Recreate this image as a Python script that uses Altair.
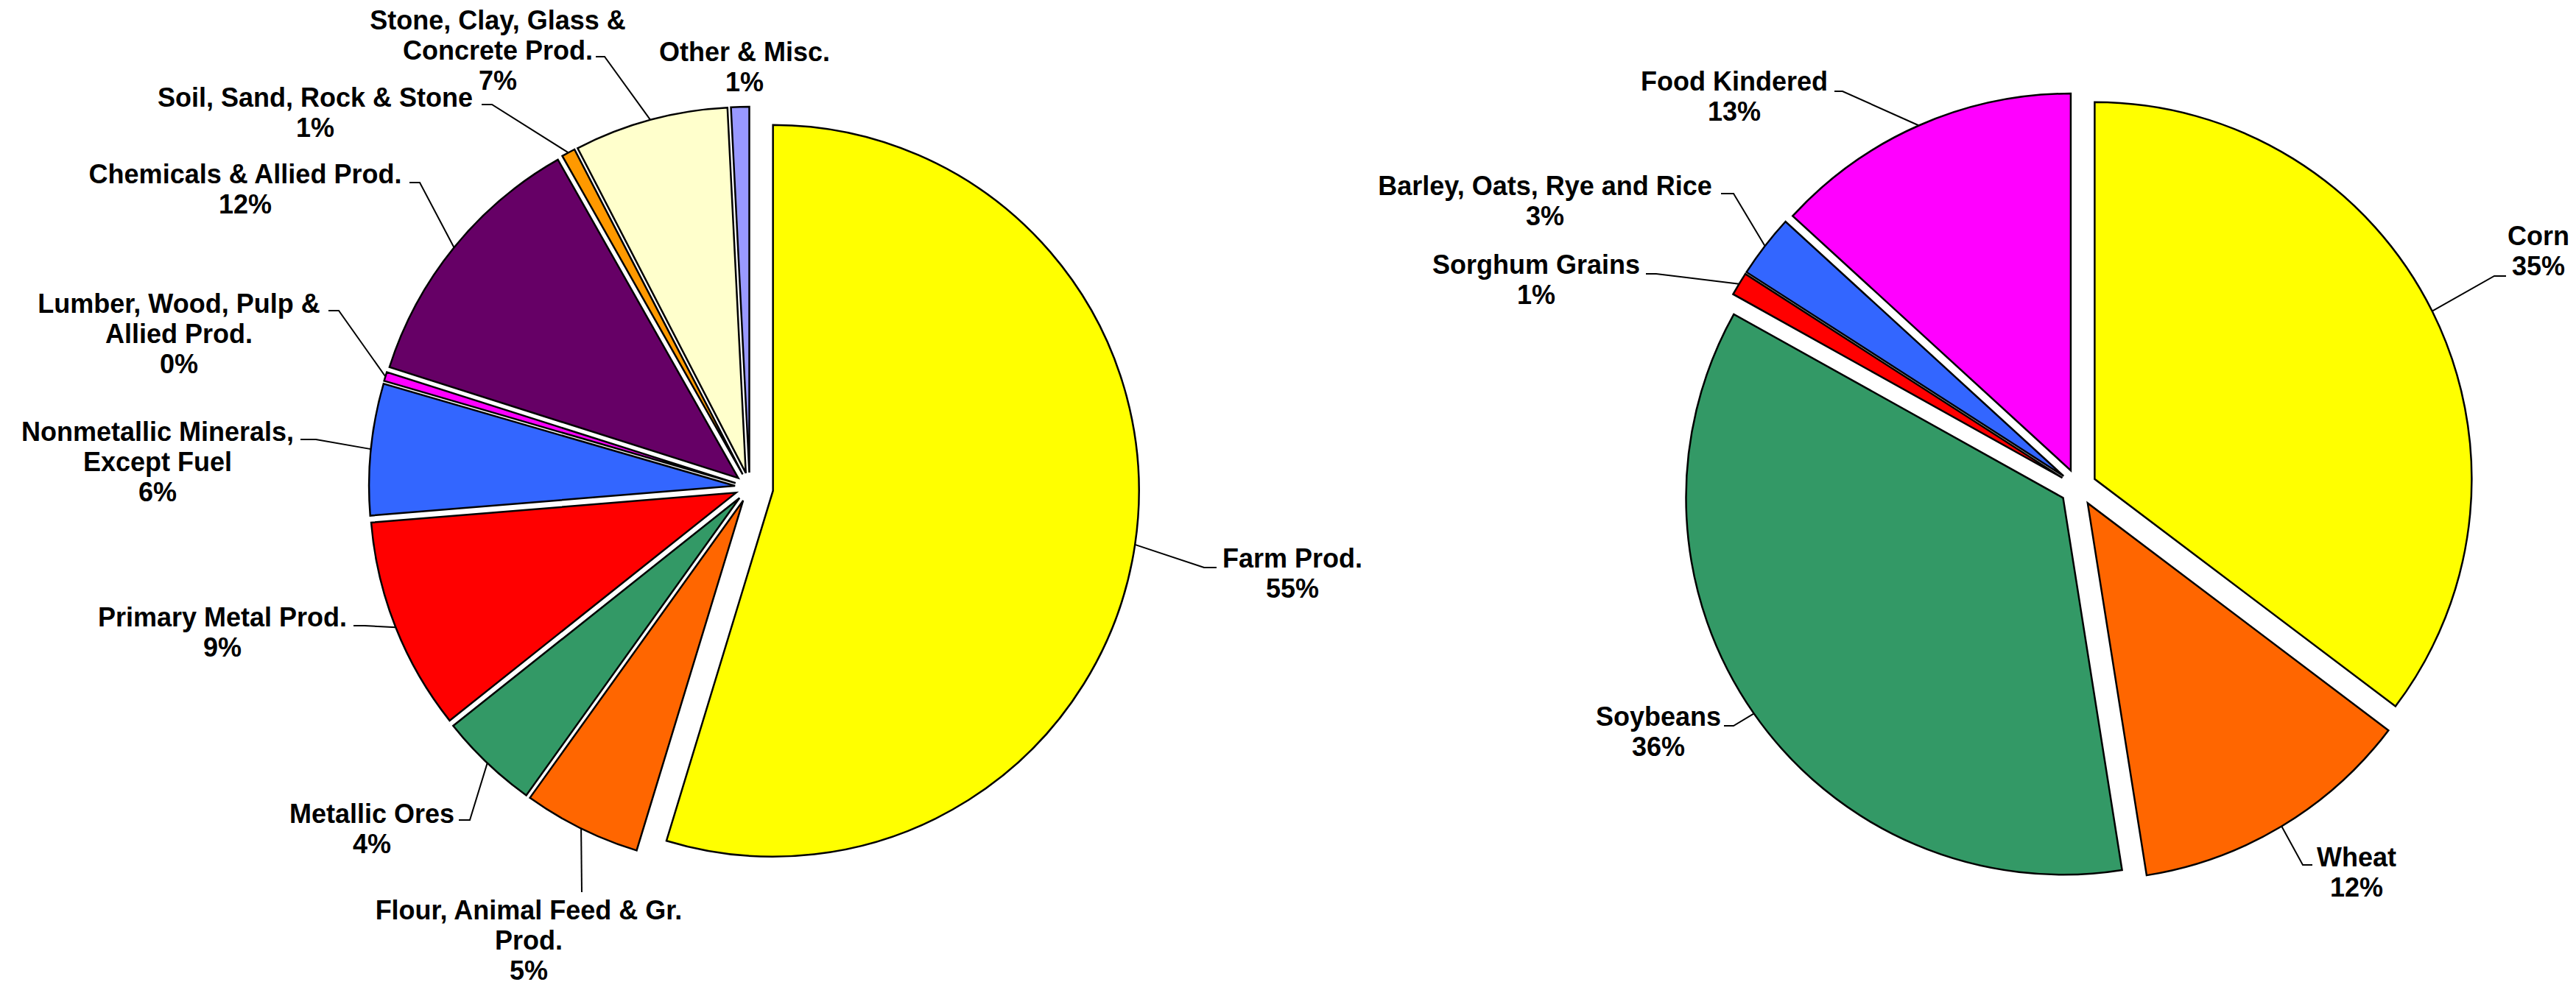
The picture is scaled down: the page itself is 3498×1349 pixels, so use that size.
import math
import pandas as pd
import altair as alt

# ---------------- data ----------------
LEFT_LINES = [
    ["Farm Prod."],
    ["Flour, Animal Feed & Gr.", "Prod."],
    ["Metallic Ores"],
    ["Primary Metal Prod."],
    ["Nonmetallic Minerals,", "Except Fuel"],
    ["Lumber, Wood, Pulp &", "Allied Prod."],
    ["Chemicals & Allied Prod."],
    ["Soil, Sand, Rock & Stone"],
    ["Stone, Clay, Glass &", "Concrete Prod."],
    ["Other & Misc."],
]
LEFT_VALUES = [54.7, 5.2, 4.4, 9.4, 5.8, 0.4, 11.9, 0.6, 6.8, 0.8]
LEFT_COLORS = ["#FFFF00", "#FF6600", "#339966", "#FF0000", "#3366FF",
               "#FF00FF", "#660066", "#FF9900", "#FFFFCC", "#9999FF"]

RIGHT_LINES = [["Corn"], ["Wheat"], ["Soybeans"], ["Sorghum Grains"],
               ["Barley, Oats, Rye and Rice"], ["Food Kindered"]]
RIGHT_VALUES = [35.3, 12.2, 35.6, 1.0, 2.7, 13.2]
RIGHT_COLORS = ["#FFFF00", "#FF6600", "#339966", "#FF0000", "#3366FF", "#FF00FF"]

# ---------------- layout (page pixels) ----------------
W, H = 3482, 1333
LEFT_CENTER = (1018, 662)
LEFT_R = 497
LEFT_EXPLODE = [32, 20, 20, 20, 20, 20, 20, 20, 20, 20]
LEFT_LABEL_POS = [(1755, 760), (718, 1238), (505, 1107), (302, 840), (214, 588),
                  (243, 414), (333, 238), (428, 134), (676, 29), (1011, 72)]
LEFT_LEADER = [[(1635, 771), (1652, 771)], [(790, 1212)], [(638, 1114), (623, 1114)],
               [(495, 850), (480, 850)], [(429, 597), (408, 597)],
               [(460, 422), (446, 422)], [(570, 248), (556, 248)],
               [(668, 142), (654, 142)], [(821, 77), (809, 77)], []]

RIGHT_CENTER = (2822, 662)
RIGHT_R = 512
RIGHT_EXPLODE = [25, 25, 25, 25, 25, 25]
RIGHT_LABEL_POS = [(3447, 322), (3200, 1166), (2252, 975), (2086, 361),
                   (2098, 254), (2355, 112)]
RIGHT_LEADER = [[(3387, 375), (3403, 375)], [(3127, 1175), (3140, 1175)],
                [(2354, 986), (2341, 986)], [(2249, 372), (2235, 372)],
                [(2354, 263), (2337, 263)], [(2502, 124), (2491, 124)]]

FONT_SIZE = 36
LINE_H = 41


def build(prefix, lines, values, colors, center, R, explode, label_pos, leader):
    total = sum(values)
    slices, leads, texts = [], [], []
    cum = 0.0
    for i, v in enumerate(values):
        t0, t1 = cum, cum + v
        cum = t1
        mid = (t0 + v / 2) / total * 2 * math.pi
        ox = center[0] + explode[i] * math.sin(mid)
        oy = center[1] - explode[i] * math.cos(mid)
        key = f"{prefix}{i}"
        slices.append(dict(key=key, t0=t0, t1=t1, ox=ox, oy=oy, color=colors[i]))
        if leader[i]:
            sx = ox + R * math.sin(mid)
            sy = oy - R * math.cos(mid)
            pts = [(sx, sy)] + leader[i]
            for j, (px, py) in enumerate(pts):
                leads.append(dict(key=key, idx=j, x=px, y=py))
        pct = f"{round(v / total * 100)}%"
        lx, ly = label_pos[i]
        for j, txt in enumerate(lines[i] + [pct]):
            texts.append(dict(key=key, x=lx, y=ly + j * LINE_H, text=txt))
    return pd.DataFrame(slices), pd.DataFrame(leads), pd.DataFrame(texts)


ls, ll, lt = build("L", LEFT_LINES, LEFT_VALUES, LEFT_COLORS, LEFT_CENTER, LEFT_R,
                   LEFT_EXPLODE, LEFT_LABEL_POS, LEFT_LEADER)
rs, rl, rt = build("R", RIGHT_LINES, RIGHT_VALUES, RIGHT_COLORS, RIGHT_CENTER, RIGHT_R,
                   RIGHT_EXPLODE, RIGHT_LABEL_POS, RIGHT_LEADER)
leads = pd.concat([ll, rl], ignore_index=True)
texts = pd.concat([lt, rt], ignore_index=True)

xs = alt.Scale(domain=[8, 8 + W], nice=False, zero=False)
ys = alt.Scale(domain=[8, 8 + H], nice=False, zero=False, reverse=True)
ts = alt.Scale(domain=[0, 100], range=[0, 2 * math.pi])


def pie(df, R):
    return alt.Chart(df).mark_arc(radius=R, stroke="black", strokeWidth=2.5,
                                  strokeJoin="miter").encode(
        x=alt.X("ox:Q", scale=xs, axis=None),
        y=alt.Y("oy:Q", scale=ys, axis=None),
        theta=alt.Theta("t0:Q", scale=ts, stack=False),
        theta2="t1:Q",
        color=alt.Color("color:N", scale=None, legend=None),
    )


lines_layer = alt.Chart(leads).mark_line(color="black", strokeWidth=2).encode(
    x=alt.X("x:Q", scale=xs, axis=None),
    y=alt.Y("y:Q", scale=ys, axis=None),
    detail="key:N",
    order="idx:Q",
)

text_layer = alt.Chart(texts).mark_text(
    font="Liberation Sans", fontSize=FONT_SIZE, fontWeight="bold",
    align="center", baseline="middle", color="black"
).encode(
    x=alt.X("x:Q", scale=xs, axis=None),
    y=alt.Y("y:Q", scale=ys, axis=None),
    text="text:N",
)

chart = alt.layer(pie(ls, LEFT_R), pie(rs, RIGHT_R), lines_layer, text_layer).properties(
    width=W, height=H, padding=0,
    autosize=alt.AutoSizeParams(type="none"),
).configure_view(strokeWidth=0)

chart.save("out.html", embed_options={"renderer": "svg", "actions": False})
